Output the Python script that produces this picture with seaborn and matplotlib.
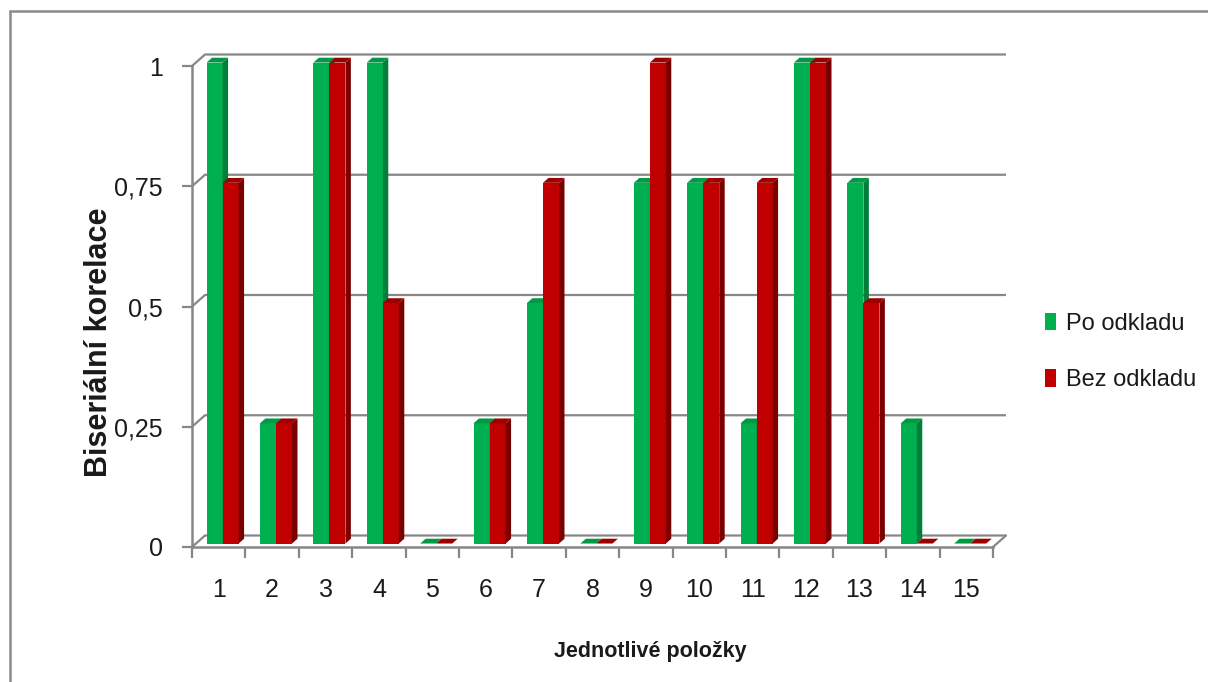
import matplotlib
matplotlib.use("Agg")
import matplotlib.pyplot as plt
from matplotlib.patches import Polygon, Patch
from matplotlib.lines import Line2D
import pandas as pd
import seaborn as sns

# ---- data -------------------------------------------------------------
polozky = [str(i) for i in range(1, 16)]
po_odkladu = [1, 0.25, 1, 1, 0, 0.25, 0.5, 0, 0.75, 0.75, 0.25, 1, 0.75, 0.25, 0]
bez_odkladu = [0.75, 0.25, 1, 0.5, 0, 0.25, 0.75, 0, 1, 0.75, 0.75, 1, 0.5, 0, 0]
serie = ["Po odkladu", "Bez odkladu"]
y_ticks = [0, 0.25, 0.5, 0.75, 1]
y_labels = ["0", "0,25", "0,5", "0,75", "1"]

# ---- style ------------------------------------------------------------
GREEN, GREEN_SIDE, GREEN_TOP = "#00B050", "#007F3A", "#009944"
RED, RED_SIDE, RED_TOP = "#C00000", "#7A0000", "#9E0000"
GRID = "#878787"
TEXT = "#1a1a1a"

sns.set_theme(style="white")
plt.rcParams["font.family"] = ["Liberation Sans", "DejaVu Sans"]

W, H, DPI = 1208, 682, 100
fig = plt.figure(figsize=(W / DPI, H / DPI), dpi=DPI)
fig.patch.set_facecolor("white")

# pseudo-3D geometry (pixels)
x0_px, y0_px = 192, 547          # front-left corner of the floor
px_cat, px_val = 53.4, 481       # pixels per category / per unit value
dpx, dpy = 13, 11.5              # depth of the box
right_px = x0_px + 15 * px_cat + dpx
top_px = y0_px - px_val - dpy

ax = fig.add_axes([x0_px / W, 1 - y0_px / H,
                   (right_px - x0_px) / W, (y0_px - top_px) / H])

df = pd.DataFrame({
    "polozka": polozky * 2,
    "hodnota": po_odkladu + bez_odkladu,
    "serie": [serie[0]] * len(polozky) + [serie[1]] * len(polozky),
})

sns.barplot(data=df, x="polozka", y="hodnota", hue="serie", order=polozky,
            hue_order=serie, palette=[GREEN, RED], width=0.6, saturation=1,
            legend=False, ax=ax, linewidth=0)

Dx, Dy = dpx / px_cat, dpy / px_val
ax.set_xlim(-0.5, -0.5 + (right_px - x0_px) / px_cat)
ax.set_ylim(0, (y0_px - top_px) / px_val)

# give every bar a side and a top face
f, b = 0.3, 0.42
n = len(polozky)
for i, p in enumerate(ax.patches):
    green = i < n
    face, side_c, top_c = (GREEN, GREEN_SIDE, GREEN_TOP) if green else (RED, RED_SIDE, RED_TOP)
    z = 2 if green else 3
    x = p.get_x() + f * Dx
    y = f * Dy
    w, h = p.get_width(), p.get_height()
    p.set_x(x)
    p.set_y(y)
    p.set_zorder(z)
    p.set_facecolor(face)
    side = Polygon([(x + w, y), (x + w + b * Dx, y + b * Dy),
                    (x + w + b * Dx, y + h + b * Dy), (x + w, y + h)],
                   closed=True, facecolor=side_c, edgecolor="none", zorder=z + 0.1)
    top = Polygon([(x, y + h), (x + b * Dx, y + h + b * Dy),
                   (x + w + b * Dx, y + h + b * Dy), (x + w, y + h)],
                  closed=True, facecolor=top_c, edgecolor="none", zorder=z + 0.1)
    ax.add_patch(side)
    ax.add_patch(top)

# back wall gridlines with their diagonal joins, and the floor
x_left, x_right = -0.5, n - 0.5
for v in y_ticks:
    ax.plot([x_left, x_left + Dx, x_right + Dx], [v, v + Dy, v + Dy],
            color=GRID, lw=1.6, zorder=0.5, clip_on=False, solid_capstyle="butt")
ax.plot([x_right, x_right + Dx], [0, Dy], color=GRID, lw=1.6, zorder=0.5, clip_on=False)

# axes lines and ticks
for s in ["top", "right"]:
    ax.spines[s].set_visible(False)
for s in ["left", "bottom"]:
    ax.spines[s].set_color(GRID)
    ax.spines[s].set_linewidth(1.8)
    ax.spines[s].set_zorder(0.6)
ax.spines["left"].set_bounds(0, 1)
ax.spines["bottom"].set_bounds(x_left, x_right)

ax.set_yticks(y_ticks, y_labels)
ax.tick_params(axis="y", left=True, length=7, width=1.6, color=GRID,
               pad=14, labelsize=18, labelcolor=TEXT)
ax.set_xticks(range(n), polozky)
ax.set_xticks([k - 0.5 for k in range(n + 1)], minor=True)
ax.tick_params(axis="x", which="major", bottom=True, length=0, pad=22,
               labelsize=18, labelcolor=TEXT)
ax.tick_params(axis="x", which="minor", bottom=True, length=8, width=1.6,
               color=GRID)
ax.set_xlabel("")
ax.set_ylabel("")
ax.grid(False)

# axis titles
fig.text(99 / W, 1 - 342 / H, "Biseriální korelace", rotation=90,
         ha="center", va="center", fontsize=22, fontweight="bold", color=TEXT)
fig.text(650 / W, 1 - 657 / H, "Jednotlivé položky", ha="center",
         va="baseline", fontsize=15.5, fontweight="bold", color=TEXT)

# legend
handles = [Patch(facecolor=GREEN, edgecolor="none"),
           Patch(facecolor=RED, edgecolor="none")]
fig.legend(handles, serie, loc="center left",
           bbox_to_anchor=(1045 / W, 1 - 352 / H), frameon=False,
           fontsize=17, handlelength=0.47, handleheight=0.75,
           handletextpad=0.4, labelspacing=1.45, borderpad=0,
           borderaxespad=0, labelcolor=TEXT)

# chart area border
fig.add_artist(Line2D([10 / W, 10 / W], [0, 1 - 11 / H], transform=fig.transFigure,
                      color="#8a8a8a", lw=1.8))
fig.add_artist(Line2D([10 / W, 1], [1 - 11 / H, 1 - 11 / H], transform=fig.transFigure,
                      color="#8a8a8a", lw=1.8))

fig.savefig("out.png", dpi=DPI)
